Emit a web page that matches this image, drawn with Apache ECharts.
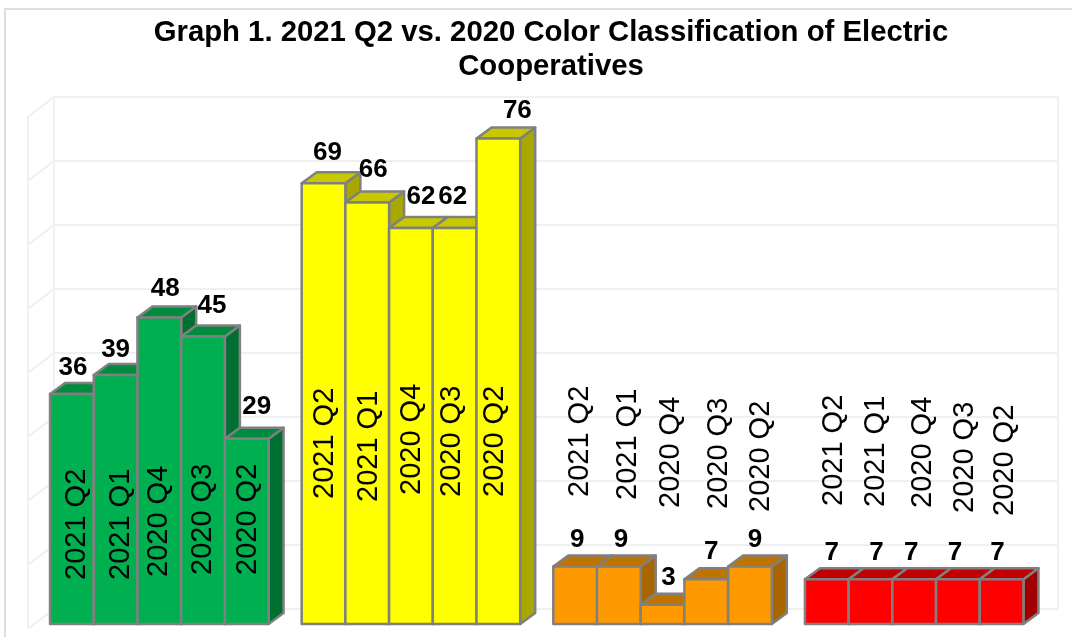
<!DOCTYPE html>
<html>
<head>
<meta charset="utf-8">
<title>Color Classification of Electric Cooperatives</title>
<script src="https://cdn.jsdelivr.net/npm/echarts@6/dist/echarts.min.js"></script>
<style>
html, body { margin: 0; padding: 0; background: #ffffff; }
#chart { width: 1072px; height: 637px; }
</style>
</head>
<body>
<div id="chart"></div>
<script>
// data
var categories = ['Green', 'Yellow', 'Orange', 'Red'];
var periods = ['2021 Q2', '2021 Q1', '2020 Q4', '2020 Q3', '2020 Q2'];
var q2of2021 = [36, 69, 9, 7];
var q1of2021 = [39, 66, 9, 7];
var q4of2020 = [48, 62, 3, 7];
var q3of2020 = [45, 62, 7, 7];
var q2of2020 = [29, 76, 9, 7];
var periodValues = [q2of2021, q1of2021, q4of2020, q3of2020, q2of2020];
var wallTicks = [0, 10, 20, 30, 40, 50, 60, 70, 80];

// colours per category: front, top, side
var barColors = [
    ['#00B050', '#008C3F', '#006F32'],
    ['#FFFF00', '#C8C800', '#A8A800'],
    ['#FF9900', '#BF7300', '#A86500'],
    ['#FF0000', '#C00000', '#A00000']
];

// hand placed labels in the original, px relative to the bar: [period][category]
var valueDx = [[1, 4, 2, 5], [0, 6, 2, 6], [6, 10, 6, -3], [9, -2, 5, -3], [10, 19, 5, -4]];
var valueLift = [[26, 30, 27, 26], [25, 33, 27, 26], [29, 31, 27, 26], [31, 31, 27, 26], [32, 28, 27, 26]];
var nameDx = [[5, 1, 5, 7], [5, 2, 9, 6], [0, 1, 8, 9], [0, -3, 13, 7], [1, -3, 11, 3]];
var nameLift = [[44, 125, 127, 118], [44, 122, 124, 117], [47, 129, 116, 116], [49, 127, 115, 111], [49, 127, 112, 108]];

var fontName = '"Liberation Sans", Arial, sans-serif';
var barDepthX = 15, barDepthY = 11;
var wallDepthX = 26, wallDepthY = 20;
var groupShare = 218.5 / 251.6;

function renderBar(periodIndex) {
    return function (params, api) {
        var cat = api.value(0);
        var val = api.value(1);
        var top = api.coord([cat, val]);
        var base = api.coord([cat, 0]);
        var groupW = api.size([1, 0])[0] * groupShare;
        var barW = groupW / periods.length;
        var x0 = top[0] - groupW / 2 + periodIndex * barW;
        var x1 = x0 + barW;
        var y0 = top[1];
        var y1 = base[1];
        var cols = barColors[cat];
        var edge = { stroke: '#808080', lineWidth: 2.5, lineJoin: 'round' };
        var z = periodIndex * 3 + 1;
        var mid = (x0 + x1) / 2;
        return {
            type: 'group',
            children: [
                {
                    type: 'polygon', z2: z,
                    shape: { points: [[x1, y0], [x1 + barDepthX, y0 - barDepthY], [x1 + barDepthX, y1 - barDepthY], [x1, y1]] },
                    style: Object.assign({ fill: cols[2] }, edge)
                },
                {
                    type: 'polygon', z2: z + 1,
                    shape: { points: [[x0, y0], [x0 + barDepthX, y0 - barDepthY], [x1 + barDepthX, y0 - barDepthY], [x1, y0]] },
                    style: Object.assign({ fill: cols[1] }, edge)
                },
                {
                    type: 'rect', z2: z + 2,
                    shape: { x: x0, y: y0, width: barW, height: y1 - y0 },
                    style: Object.assign({ fill: cols[0] }, edge)
                },
                {
                    type: 'text', z2: 100,
                    x: mid + nameDx[periodIndex][cat], y: y1 - nameLift[periodIndex][cat],
                    rotation: Math.PI / 2,
                    style: {
                        text: periods[periodIndex], x: 0, y: 0, align: 'left', verticalAlign: 'middle',
                        font: '29px ' + fontName, fill: '#000000'
                    }
                },
                {
                    type: 'text', z2: 101,
                    style: {
                        text: String(val),
                        x: mid + valueDx[periodIndex][cat], y: y0 - valueLift[periodIndex][cat],
                        align: 'center', verticalAlign: 'middle',
                        font: 'bold 26px ' + fontName, fill: '#000000'
                    }
                }
            ]
        };
    };
}

// side wall of the 3d box, hangs off the back wall's value axis
function renderWall(params, api) {
    var backX = params.coordSys.x;
    var y = api.coord([0, api.value(0)])[1];
    var topY = api.coord([0, wallTicks[wallTicks.length - 1]])[1];
    var bottomY = api.coord([0, 0])[1];
    var style = { stroke: '#F0F0F0', lineWidth: 2, fill: null };
    var children = [{
        type: 'line',
        shape: { x1: backX, y1: y, x2: backX - wallDepthX, y2: y + wallDepthY },
        style: style
    }];
    if (params.dataIndex === 0) {
        children.push({
            type: 'line',
            shape: { x1: backX - wallDepthX, y1: topY + wallDepthY, x2: backX - wallDepthX, y2: bottomY + wallDepthY },
            style: style
        });
    }
    return { type: 'group', children: children };
}

var barSeries = periods.map(function (name, i) {
    return {
        type: 'custom',
        name: name,
        xAxisIndex: 0,
        yAxisIndex: 0,
        clip: false,
        silent: true,
        z: 5,
        renderItem: renderBar(i),
        encode: { x: 0, y: 1 },
        data: periodValues[i].map(function (v, c) { return [c, v]; })
    };
});

var myChart = echarts.init(document.getElementById('chart'), null, { renderer: 'canvas' });
myChart.setOption({
    animation: false,
    backgroundColor: '#ffffff',
    title: {
        text: 'Graph 1. 2021 Q2 vs. 2020 Color Classification of Electric\nCooperatives',
        left: 546,
        top: 11,
        textAlign: 'center',
        textStyle: { fontFamily: fontName, fontSize: 29.3, fontWeight: 'bold', color: '#000000', lineHeight: 34 }
    },
    tooltip: { show: false },
    legend: { show: false },
    grid: [
        { left: 33.5, right: 32, top: 113, bottom: 13 },
        { left: 54, right: 14, top: 97, bottom: 28, show: true, borderColor: '#F0F0F0', borderWidth: 2, backgroundColor: 'transparent' }
    ],
    xAxis: [
        { type: 'category', gridIndex: 0, data: categories, show: false },
        { type: 'category', gridIndex: 1, data: categories, show: false }
    ],
    yAxis: [
        { type: 'value', gridIndex: 0, min: 0, max: 80, interval: 10, show: false },
        {
            type: 'value', gridIndex: 1, min: 0, max: 80, interval: 10,
            axisLabel: { show: false }, axisLine: { show: false }, axisTick: { show: false },
            splitLine: { show: true, lineStyle: { color: '#F0F0F0', width: 2 } }
        }
    ],
    graphic: [{
        type: 'polyline', silent: true, z: 0,
        shape: { points: [[5, 637], [5, 9], [1072, 9]] },
        style: { fill: null, stroke: '#DEDEDE', lineWidth: 2 }
    }],
    series: [{
        type: 'custom',
        xAxisIndex: 1,
        yAxisIndex: 1,
        clip: false,
        silent: true,
        z: 1,
        renderItem: renderWall,
        encode: { y: 0 },
        data: wallTicks.map(function (t) { return [t]; })
    }].concat(barSeries)
});
</script>
</body>
</html>
